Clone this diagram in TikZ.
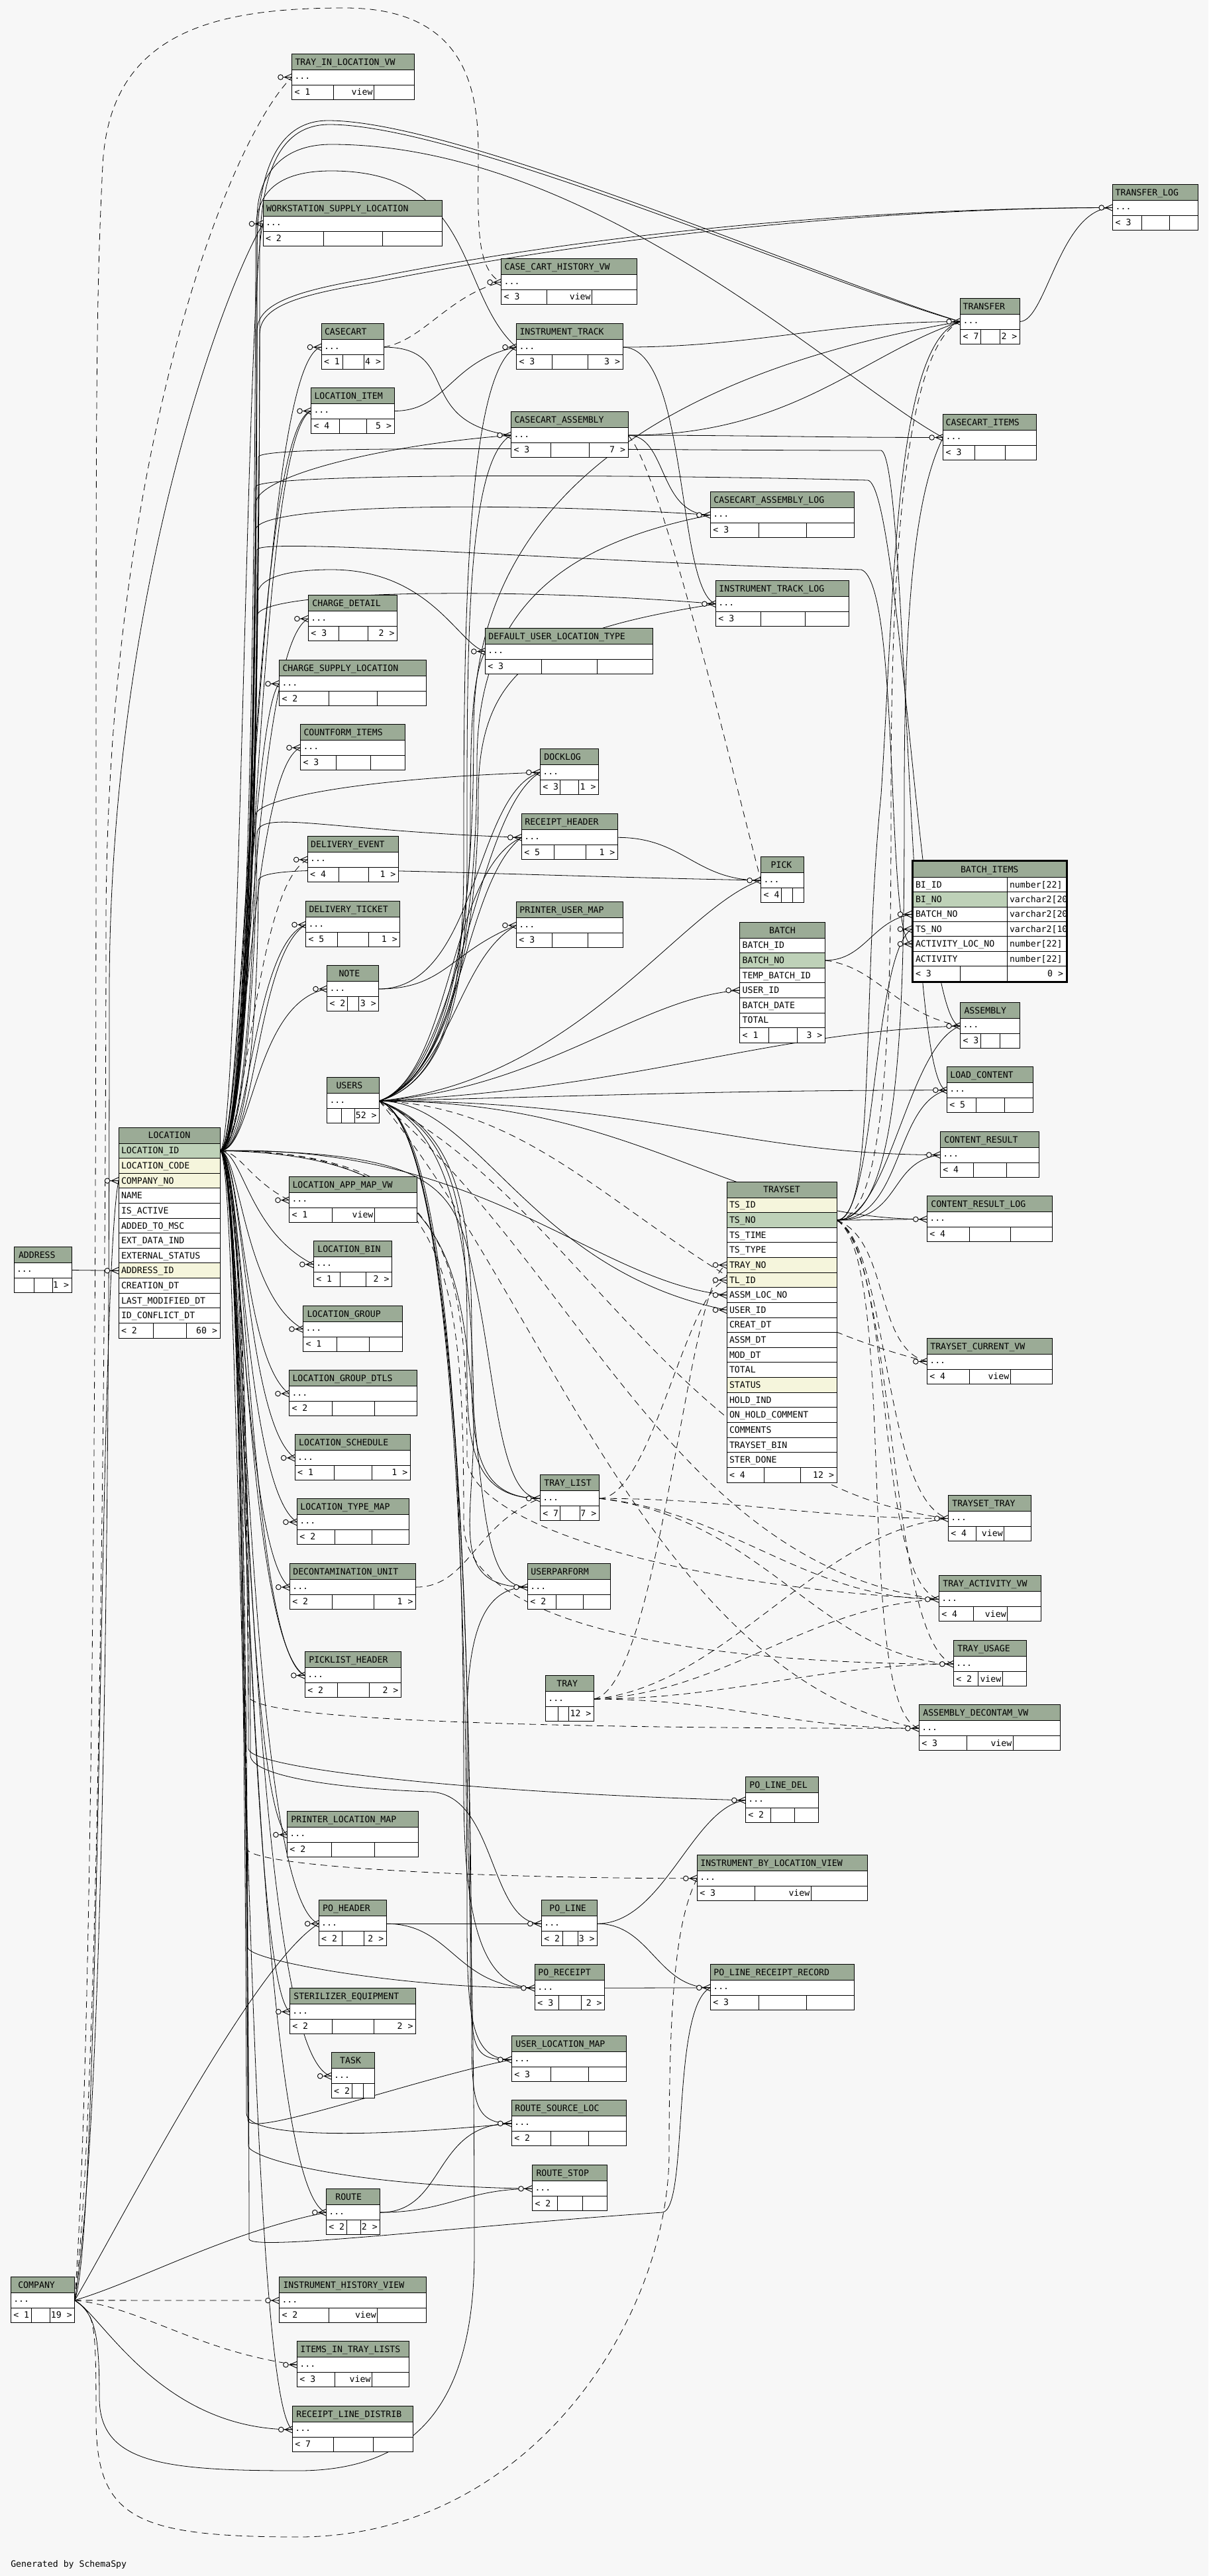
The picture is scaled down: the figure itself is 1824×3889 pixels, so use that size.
\documentclass[tikz,border=0pt]{standalone}
\usepackage{fontspec}
\newfontfamily\mono{DejaVu Sans Mono}
\definecolor{bgc}{HTML}{F7F7F7}
\definecolor{hdrc}{HTML}{9BAB96}
\definecolor{pkc}{HTML}{BED1B8}
\definecolor{ixc}{HTML}{F5F5DC}
\pgfdeclarelayer{back}
\pgfdeclarelayer{edges}
\pgfsetlayers{back,edges,main}
\tikzset{
  tx/.style={inner sep=0pt, outer sep=0pt, font=\mono\fontsize{13.2}{14}\selectfont},
  bx/.style={line width=1pt, black},
  edg/.style={line width=0.8pt, black},
  dsh/.style={dash pattern=on 10pt off 7pt},
  crow/.pic={\draw[line width=0.9pt] (-13,0) -- (0,0) (-11,0) -- (0,-5) (-11,0) -- (0,5);
             \draw[line width=0.9pt, fill=bgc] (-17,0) circle (3.8pt);}
}
\newcommand\tb[9]{%
  \def\tbid{#1}\def\tbx{#2}\def\tby{#3}\def\tbxx{#4}\def\tbdb{#8}%
  \fill[white] (#2,#3) rectangle (#4,#3+69);
  \fill[hdrc] (#2,#3) rectangle (#4,#3+24);
  \draw[bx] (#2,#3) rectangle (#4,#3+69)
     (#2,#3+24) -- (#4,#3+24) (#2,#3+47) -- (#4,#3+47)
     (#7,#3+47) -- (#7,#3+69) (#8,#3+47) -- (#8,#3+69);
  \node[tx,anchor=base west] (#1) at (#2+#5,#3+17) {#6};
  \node[tx,anchor=base west] (#1-d) at (#2+4,#3+38.5) {...};
  \coordinate (#1-w) at (#2,#3+35.5);
  \coordinate (#1-e) at (#4,#3+35.5);
  \tbfoot#9}
\newcommand\tbfoot[3]{%
  \node[tx,anchor=base west] (\tbid-fa) at (\tbx+4,\tby+62.3) {#1};
  \node[tx,anchor=base east] (\tbid-fb) at (\tbdb-2,\tby+62.3) {#2};
  \node[tx,anchor=base east] (\tbid-fc) at (\tbxx-4,\tby+62.3) {#3};}
\begin{document}
\catcode`\_=12
\begin{tikzpicture}[x=1pt,y=-1pt]
\begin{pgfonlayer}{back}
\fill[bgc] (0,0) rectangle (1824,3889);
\end{pgfonlayer}
\useasboundingbox (0,0) rectangle (1824,3889);

% ---------------- small tables
\tb{tilv}{440.5}{81}{625}{5}{TRAY_IN_LOCATION_VW}{503}{564.5}{{< 1}{view}{}}
\tb{wsl}{397}{302.4}{667}{5}{WORKSTATION_SUPPLY_LOCATION}{488}{577.5}{{< 2}{}{}}
\tb{cchv}{756.6}{390.6}{961}{5}{CASE_CART_HISTORY_VW}{825.5}{893.6}{{< 3}{view}{}}
\tb{cc}{485}{488.6}{579}{5}{CASECART}{517}{549}{{< 1}{}{4 >}}
\tb{it}{779.5}{488.6}{940}{5}{INSTRUMENT_TRACK}{833.5}{887.5}{{< 3}{}{3 >}}
\tb{tlog}{1679.7}{278}{1808}{4}{TRANSFER_LOG}{1723.6}{1765}{{< 3}{}{}}
\tb{tr}{1449.6}{450}{1539.4}{4}{TRANSFER}{1480.7}{1509.3}{{< 7}{}{2 >}}
\tb{li}{469.5}{585}{595}{5}{LOCATION_ITEM}{512}{553}{{< 4}{}{5 >}}
\tb{ca}{771.5}{621.6}{948}{5}{CASECART_ASSEMBLY}{831.6}{889.8}{{< 3}{}{7 >}}
\tb{cci}{1423.6}{625}{1564.4}{4}{CASECART_ITEMS}{1471.5}{1517.4}{{< 3}{}{}}
\tb{cal}{1072.4}{742}{1289.6}{5}{CASECART_ASSEMBLY_LOG}{1145.2}{1217.6}{{< 3}{}{}}
\tb{itl}{1080.4}{876.2}{1281.6}{5}{INSTRUMENT_TRACK_LOG}{1148.6}{1215.5}{{< 3}{}{}}
\tb{cd}{465.4}{898.6}{599.5}{6}{CHARGE_DETAIL}{511.3}{555.6}{{< 3}{}{2 >}}
\tb{dult}{732.3}{948}{985.4}{5}{DEFAULT_USER_LOCATION_TYPE}{817.3}{901.6}{{< 3}{}{}}
\tb{csl}{421.5}{996.8}{643.3}{5}{CHARGE_SUPPLY_LOCATION}{496.6}{569.8}{{< 2}{}{}}
\tb{cfi}{453.5}{1093.3}{611.3}{5}{COUNTFORM_ITEMS}{507.3}{559.5}{{< 3}{}{}}
\tb{dl}{815.3}{1130.6}{903.5}{6}{DOCKLOG}{845.8}{873.5}{{< 3}{}{1 >}}
\tb{rh}{787.3}{1228.8}{932.4}{5}{RECEIPT_HEADER}{836.3}{884.5}{{< 5}{}{1 >}}
\tb{de}{464.2}{1262.3}{601.4}{5}{DELIVERY_EVENT}{511.3}{556.4}{{< 4}{}{1 >}}
\tb{pk}{1148.6}{1293.6}{1213.4}{15}{PICK}{1179.3}{1196.5}{{< 4}{}{}}
\tb{dt}{461.5}{1360.5}{603.8}{5}{DELIVERY_TICKET}{509.3}{556.4}{{< 5}{}{1 >}}
\tb{pum}{779.4}{1361.5}{940.3}{5}{PRINTER_USER_MAP}{833.5}{887.3}{{< 3}{}{}}
\tb{nt}{493.5}{1457.5}{571.8}{18}{NOTE}{524.7}{541.7}{{< 2}{}{3 >}}
\tb{asm}{1449.5}{1513.4}{1539.6}{6}{ASSEMBLY}{1480.2}{1509.7}{{< 3}{}{}}
\tb{lc}{1429.3}{1610.3}{1559.7}{5}{LOAD_CONTENT}{1473.7}{1516.3}{{< 5}{}{}}
\tb{us}{493.5}{1626.6}{572.6}{14}{USERS}{515.6}{535.8}{{}{}{52 >}}
\tb{cr}{1419.3}{1708}{1568.7}{6}{CONTENT_RESULT}{1469.3}{1519.3}{{< 4}{}{}}
\tb{lamv}{436.5}{1776.4}{629.5}{5}{LOCATION_APP_MAP_VW}{501.4}{565.4}{{< 1}{view}{}}
\tb{crl}{1399.3}{1805.2}{1588.7}{6}{CONTENT_RESULT_LOG}{1463.3}{1525.3}{{< 4}{}{}}
\tb{adr}{21}{1882}{108}{7}{ADDRESS}{51.7}{79.7}{{}{}{1 >}}
\tb{lb}{473.3}{1873.4}{591.5}{6}{LOCATION_BIN}{513.6}{552.8}{{< 1}{}{2 >}}
\tb{lg}{457.5}{1971}{607.8}{6}{LOCATION_GROUP}{508.5}{557.5}{{< 1}{}{}}
\tb{tcv}{1399.3}{2020}{1588.7}{5}{TRAYSET_CURRENT_VW}{1463.3}{1525.3}{{< 4}{view}{}}
\tb{lgd}{436.5}{2068.5}{629.5}{5}{LOCATION_GROUP_DTLS}{501.4}{565.4}{{< 2}{}{}}
\tb{ls}{445.2}{2165.5}{619.2}{6}{LOCATION_SCHEDULE}{504.6}{561.5}{{< 1}{}{1 >}}
\tb{tl}{815.3}{2226.7}{904.3}{6}{TRAY_LIST}{845.8}{875.4}{{< 7}{}{7 >}}
\tb{tst}{1431.3}{2257}{1556.3}{6}{TRAYSET_TRAY}{1473.7}{1515.7}{{< 4}{view}{}}
\tb{ltm}{448.4}{2262.4}{617.2}{5}{LOCATION_TYPE_MAP}{505.3}{561.5}{{< 2}{}{}}
\tb{du}{437.3}{2360.6}{627.5}{5}{DECONTAMINATION_UNIT}{501.8}{564.7}{{< 2}{}{1 >}}
\tb{upf}{796.4}{2360.6}{921.3}{5}{USERPARFORM}{839.5}{880.6}{{< 2}{}{}}
\tb{tav}{1417.3}{2378.9}{1571.7}{6}{TRAY_ACTIVITY_VW}{1469.3}{1520.7}{{< 4}{view}{}}
\tb{tu}{1439.3}{2476.7}{1549.7}{6}{TRAY_USAGE}{1476.3}{1513.3}{{< 2}{view}{}}
\tb{ph}{460.3}{2493.9}{605.4}{6}{PICKLIST_HEADER}{509.3}{557.5}{{< 2}{}{2 >}}
\tb{tray}{823.3}{2529.6}{896.4}{17}{TRAY}{842}{858}{{}{}{12 >}}
\tb{adv}{1387.3}{2573.8}{1600.3}{6}{ASSEMBLY_DECONTAM_VW}{1459.3}{1529.3}{{< 3}{view}{}}
\tb{pld}{1125.3}{2682.3}{1235.3}{6}{PO_LINE_DEL}{1163.3}{1199.3}{{< 2}{}{}}
\tb{plm}{433.4}{2734.4}{631.5}{6}{PRINTER_LOCATION_MAP}{500.2}{565.4}{{< 2}{}{}}
\tb{iblv}{1052.3}{2800.3}{1309.3}{5}{INSTRUMENT_BY_LOCATION_VIEW}{1139.3}{1224.3}{{< 3}{view}{}}
\tb{poh}{481.2}{2868.7}{583.2}{6}{PO_HEADER}{516.4}{549.6}{{< 2}{}{2 >}}
\tb{pol}{817.3}{2868.7}{901.6}{12}{PO_LINE}{849}{872.3}{{< 2}{}{3 >}}
\tb{por}{807.4}{2965.8}{912.6}{5}{PO_RECEIPT}{843.4}{877}{{< 3}{}{2 >}}
\tb{plrr}{1072.3}{2965.3}{1289.3}{5}{PO_LINE_RECEIPT_RECORD}{1145.3}{1217.3}{{< 3}{}{}}
\tb{se}{437.3}{3001.6}{627.5}{6}{STERILIZER_EQUIPMENT}{501.8}{564.7}{{< 2}{}{2 >}}
\tb{task}{500.2}{3098.7}{565.4}{13}{TASK}{531.4}{548.4}{{< 2}{}{}}
\tb{ulm}{772.3}{3073.9}{945.4}{6}{USER_LOCATION_MAP}{831.6}{888.5}{{< 3}{}{}}
\tb{rsl}{772.3}{3170.3}{945.4}{5}{ROUTE_SOURCE_LOC}{831.6}{888.5}{{< 2}{}{}}
\tb{rst}{803.5}{3268.8}{916.6}{6}{ROUTE_STOP}{841.4}{879.8}{{< 2}{}{}}
\tb{rte}{492.3}{3304.6}{573.8}{14}{ROUTE}{523.9}{544.5}{{< 2}{}{2 >}}
\tb{comp}{16.3}{3437.3}{112.7}{11}{COMPANY}{47.7}{75.7}{{< 1}{}{19 >}}
\tb{ihv}{421.5}{3437.5}{643.3}{6}{INSTRUMENT_HISTORY_VIEW}{496.6}{569.8}{{< 2}{view}{}}
\tb{iitl}{448.4}{3534.6}{617.2}{5}{ITEMS_IN_TRAY_LISTS}{505.3}{561.5}{{< 3}{view}{}}
\tb{rld}{441.3}{3632.4}{623.2}{6}{RECEIPT_LINE_DISTRIB}{503.8}{563.5}{{< 7}{}{}}

% ---------------- LOCATION
\fill[white] (179,1702) rectangle (332,2020);
\fill[hdrc] (179,1702) rectangle (332,1726);
\foreach \n/\c [count=\i from 0] in {LOCATION_ID/pkc,LOCATION_CODE/ixc,COMPANY_NO/ixc,NAME/white,IS_ACTIVE/white,ADDED_TO_MSC/white,EXT_DATA_IND/white,EXTERNAL_STATUS/white,ADDRESS_ID/ixc,CREATION_DT/white,LAST_MODIFIED_DT/white,ID_CONFLICT_DT/white}{
  \fill[fill=\c] (179,{1726+\i*22.62}) rectangle (332,{1726+(\i+1)*22.62});
  \node[tx,anchor=base west] (loc-r\i) at (183,{1726+(\i+0.5)*22.62+4.6}) {\n};
}
\foreach \i in {0,...,12} \draw[bx] (179,{1726+\i*22.62}) -- (332,{1726+\i*22.62});
\draw[bx] (179,1702) rectangle (332,2020) (231,1997.4) -- (231,2020) (281.7,1997.4) -- (281.7,2020);
\node[tx,anchor=base] (loc) at (255.5,1718.7) {LOCATION};
\node[tx,anchor=base west] (loc-fa) at (183,2013.3) {< 2};
\node[tx,anchor=base east] (loc-fc) at (328,2013.3) {60 >};
\coordinate (loc-e) at (332,1737.3);
\coordinate (loc-co) at (179,1782.6);
\coordinate (loc-ad) at (179,1918.3);

% ---------------- TRAYSET
\fill[white] (1097,1784) rectangle (1263,2238);
\fill[hdrc] (1097,1784) rectangle (1263,1808);
\foreach \n/\c [count=\i from 0] in {TS_ID/ixc,TS_NO/pkc,TS_TIME/white,TS_TYPE/white,TRAY_NO/ixc,TL_ID/ixc,ASSM_LOC_NO/white,USER_ID/white,CREAT_DT/white,ASSM_DT/white,MOD_DT/white,TOTAL/white,STATUS/ixc,HOLD_IND/white,ON_HOLD_COMMENT/white,COMMENTS/white,TRAYSET_BIN/white,STER_DONE/white}{
  \fill[fill=\c] (1097,{1808+\i*22.63}) rectangle (1263,{1808+(\i+1)*22.63});
  \node[tx,anchor=base west] (ts-r\i) at (1101,{1808+(\i+0.5)*22.63+4.6}) {\n};
}
\foreach \i in {0,...,18} \draw[bx] (1097,{1808+\i*22.63}) -- (1263,{1808+\i*22.63});
\draw[bx] (1097,1784) rectangle (1263,2238) (1153.3,2215.3) -- (1153.3,2238) (1208.3,2215.3) -- (1208.3,2238);
\node[tx,anchor=base] (ts) at (1180,1800.7) {TRAYSET};
\node[tx,anchor=base west] (ts-fa) at (1101,2231.2) {< 4};
\node[tx,anchor=base east] (ts-fc) at (1259,2231.2) {12 >};
\coordinate (ts-e) at (1263,1842);
\coordinate (ts-tray) at (1097,1909.8);
\coordinate (ts-tl) at (1097,1932.5);
\coordinate (ts-assm) at (1097,1955.1);
\coordinate (ts-user) at (1097,1977.7);

% ---------------- BATCH
\fill[white] (1116.6,1392.9) rectangle (1245.4,1574.3);
\fill[hdrc] (1116.6,1392.9) rectangle (1245.4,1416);
\foreach \n/\c [count=\i from 0] in {BATCH_ID/white,BATCH_NO/pkc,TEMP_BATCH_ID/white,USER_ID/white,BATCH_DATE/white,TOTAL/white}{
  \fill[fill=\c] (1116.6,{1416+\i*22.61}) rectangle (1245.4,{1416+(\i+1)*22.61});
  \node[tx,anchor=base west] (bt-r\i) at (1120.6,{1416+(\i+0.5)*22.61+4.6}) {\n};
}
\foreach \i in {0,...,6} \draw[bx] (1116.6,{1416+\i*22.61}) -- (1245.4,{1416+\i*22.61});
\draw[bx] (1116.6,1392.9) rectangle (1245.4,1574.3) (1160.4,1551.7) -- (1160.4,1574.3) (1203.7,1551.7) -- (1203.7,1574.3);
\node[tx,anchor=base] (bt) at (1181,1409.1) {BATCH};
\node[tx,anchor=base west] (bt-fa) at (1120.6,1567.6) {< 1};
\node[tx,anchor=base east] (bt-fc) at (1241.4,1567.6) {3 >};
\coordinate (bt-e) at (1245.4,1449.9);
\coordinate (bt-user) at (1116.6,1495.1);

% ---------------- BATCH_ITEMS
\fill[white] (1378.5,1300.7) rectangle (1609,1481.1);
\fill[hdrc] (1378.5,1300.7) rectangle (1609,1324.3);
\fill[pkc] (1378.5,1346.7) rectangle (1520.3,1369.1);
\foreach \n [count=\i from 0] in {BI_ID,BI_NO,BATCH_NO,TS_NO,ACTIVITY_LOC_NO,ACTIVITY}{
  \node[tx,anchor=base west] (bi-r\i) at (1382,{1324.3+(\i+0.5)*22.4+4.6}) {\n};
}
\begin{scope}
\clip (1520.3,1324.3) rectangle (1608.5,1458.7);
\foreach \t [count=\i from 0] in {number[22],varchar2[20],varchar2[20],varchar2[10],number[22],number[22]}{
  \node[tx,anchor=base west] (bi-t\i) at (1524,{1324.3+(\i+0.5)*22.4+4.6}) {\t};
}
\end{scope}
\foreach \i in {0,...,6} \draw[bx] (1378.5,{1324.3+\i*22.4}) -- (1609,{1324.3+\i*22.4});
\draw[bx] (1378.5,1300.7) rectangle (1609,1481.1) (1520.3,1324.3) -- (1520.3,1481.1) (1449.3,1458.7) -- (1449.3,1481.1);
\draw[line width=2.2pt] (1376.6,1298.8) rectangle (1610.9,1483);
\node[tx,anchor=base] (bi) at (1493.7,1317.1) {BATCH_ITEMS};
\node[tx,anchor=base west] (bi-fa) at (1382,1474.5) {< 3};
\node[tx,anchor=base east] (bi-fc) at (1605,1474.5) {0 >};
\coordinate (bi-batch) at (1376,1380.3);
\coordinate (bi-ts) at (1376,1402.7);
\coordinate (bi-act) at (1376,1425.1);

\node[tx,anchor=base west] (gen) at (16.3,3875) {Generated by SchemaSpy};

% ---------------- connectors
\begin{pgfonlayer}{edges}
% LOCATION -> left column, upward
\draw[edg] (loc-e) .. controls +(30,0) and +(-25,80) .. (wsl-w);
\draw[edg] (loc-e) .. controls +(40,0) and +(-100,20) .. (cc-w);
\draw[edg] (loc-e) .. controls +(38,0) and +(-90,25) .. (li-w);
\draw[edg] (loc-e) .. controls +(50,0) and +(-85,40) .. (li-w);
\draw[edg] (loc-e) .. controls +(42,0) and +(-85,40) .. (cd-w);
\draw[edg] (loc-e) .. controls +(30,0) and +(-40,40) .. (csl-w);
\draw[edg] (loc-e) .. controls +(35,0) and +(-75,30) .. (cfi-w);
\draw[edg,dsh] (loc-e) .. controls +(40,0) and +(-80,40) .. (de-w);
\draw[edg] (loc-e) .. controls +(45,0) and +(-80,30) .. (dt-w);
\draw[edg] (loc-e) .. controls +(55,0) and +(-75,45) .. (dt-w);
\draw[edg] (loc-e) .. controls +(50,0) and +(-110,20) .. (nt-w);
% LOCATION -> left column, downward
\draw[edg,dsh] (loc-e) .. controls +(30,0) and +(-60,-30) .. (lamv-w);
\draw[edg] (loc-e) .. controls +(35,0) and +(-100,-50) .. (lb-w);
\draw[edg] (loc-e) .. controls +(30,0) and +(-90,-50) .. (lg-w);
\draw[edg] (loc-e) .. controls +(32,0) and +(-70,-50) .. (lgd-w);
\draw[edg] (loc-e) .. controls +(35,0) and +(-75,-50) .. (ls-w);
\draw[edg] (loc-e) .. controls +(33,0) and +(-80,-50) .. (ltm-w);
\draw[edg] (loc-e) .. controls +(30,0) and +(-70,-50) .. (du-w);
\draw[edg] (loc-e) .. controls +(34,0) and +(-90,-50) .. (ph-w);
\draw[edg] (loc-e) .. controls +(40,0) and +(-85,-35) .. (ph-w);
\draw[edg] (loc-e) .. controls +(32,0) and +(-65,-50) .. (plm-w);
\draw[edg] (loc-e) .. controls +(36,0) and +(-110,-40) .. (poh-w);
\draw[edg] (loc-e) .. controls +(34,0) and +(-65,-50) .. (se-w);
\draw[edg] (loc-e) .. controls +(38,0) and +(-130,-30) .. (task-w);
\draw[edg] (loc-e) .. controls +(36,0) and +(-120,-40) .. (rte-w);
\draw[edg] (loc-e) .. controls +(33,0) and +(-75,-50) .. (rld-w);
% LOCATION -> top and right
\draw[edg] (loc-e) .. controls +(55,0) and +(0,300) .. (388,380) .. controls +(0,-150) and +(-60,0) .. (495,182) .. controls +(200,0) and +(-200,-60) .. (tr-w);
\draw[edg] (loc-e) .. controls +(60,0) and +(0,300) .. (392,385) .. controls +(0,-150) and +(-60,0) .. (497,188) .. controls +(200,0) and +(-200,-55) .. (tr-w);
\draw[edg] (loc-e) .. controls +(50,0) and +(0,250) .. (388,500) .. controls +(0,-40) and +(-120,20) .. (560,420) .. controls +(400,-80) and +(-300,0) .. (tlog-w);
\draw[edg] (loc-e) .. controls +(55,0) and +(0,250) .. (392,505) .. controls +(0,-40) and +(-120,20) .. (560,427) .. controls +(400,-80) and +(-300,0) .. (tlog-w);
\draw[edg] (loc-e) .. controls +(52,0) and +(0,300) .. (388,330) .. controls +(0,-60) and +(-80,0) .. (500,218) .. controls +(400,0) and +(-150,-80) .. (cci-w);
\draw[edg] (loc-e) .. controls +(48,0) and +(0,300) .. (386,350) .. controls +(0,-60) and +(-80,0) .. (500,258) .. controls +(220,0) and +(-90,-80) .. (it-w);
\draw[edg] (loc-e) .. controls +(40,0) and +(0,200) .. (386,760) .. controls +(0,-40) and +(-200,15) .. (ca-w);
\draw[edg] (loc-e) .. controls +(45,0) and +(0,200) .. (386,800) .. controls +(0,-40) and +(-300,-20) .. (cal-w);
\draw[edg] (loc-e) .. controls +(45,0) and +(0,200) .. (388,930) .. controls +(0,-40) and +(-300,-25) .. (itl-w);
\draw[edg] (loc-e) .. controls +(45,0) and +(0,150) .. (388,900) .. controls +(0,-30) and +(-60,0) .. (500,860) .. controls +(150,0) and +(-40,-10) .. (dult-w);
\draw[edg] (loc-e) .. controls +(40,0) and +(0,150) .. (386,1230) .. controls +(0,-20) and +(-300,10) .. (dl-w);
\draw[edg] (loc-e) .. controls +(40,0) and +(0,150) .. (388,1260) .. controls +(0,-40) and +(-300,-10) .. (rh-w);
\draw[edg] (loc-e) .. controls +(50,0) and +(0,120) .. (390,1330) .. controls +(0,-30) and +(-500,-10) .. (pk-w);
\draw[edg] (loc-e) .. controls +(45,0) and +(0,200) .. (388,830) .. controls +(0,-20) and +(-400,-10) .. (1300,860) .. controls +(60,20) and +(-40,0) .. (bi-act);
\draw[edg] (loc-e) .. controls +(45,0) and +(0,200) .. (386,735) .. controls +(0,-20) and +(-400,-10) .. (1310,725) .. controls +(50,10) and +(-60,0) .. (asm-w);
\draw[edg] (loc-e) .. controls +(50,0) and +(0,200) .. (390,690) .. controls +(0,-20) and +(-400,0) .. (1330,680) .. controls +(40,10) and +(-60,0) .. (lc-w);
\draw[edg] (loc-e) .. controls +(400,-10) and +(-200,-20) .. (ts-assm);
\draw[edg] (loc-e) .. controls +(350,0) and +(-30,-150) .. (720,1950) .. controls +(30,150) and +(-60,0) .. (tl-w);
\draw[edg] (loc-e) .. controls +(340,5) and +(-20,-200) .. (712,2100) .. controls +(20,200) and +(-60,0) .. (upf-w);
\draw[edg] (loc-e) .. controls +(35,0) and +(0,-200) .. (375,2640) .. controls +(0,30) and +(-400,-10) .. (pld-w);
\draw[edg,dsh] (loc-e) .. controls +(33,0) and +(0,-200) .. (372,2790) .. controls +(0,30) and +(-300,0) .. (iblv-w);
\draw[edg] (loc-e) .. controls +(38,0) and +(0,-200) .. (378,2650) .. controls +(0,30) and +(-150,-5) .. (650,2705) .. controls +(100,5) and +(-80,0) .. (pol-w);
\draw[edg] (loc-e) .. controls +(34,0) and +(0,-200) .. (374,2940) .. controls +(0,20) and +(-200,0) .. (por-w);
\draw[edg] (loc-e) .. controls +(34,0) and +(0,-200) .. (374,3200) .. controls +(0,30) and +(-150,30) .. (ulm-w);
\draw[edg] (loc-e) .. controls +(33,0) and +(0,-200) .. (372,3190) .. controls +(0,40) and +(-200,20) .. (rsl-w);
\draw[edg] (loc-e) .. controls +(35,0) and +(0,-200) .. (375,3240) .. controls +(0,15) and +(-300,-5) .. (rst-w);
\draw[edg] (loc-e) .. controls +(36,0) and +(0,-300) .. (376,3380) .. controls +(0,20) and +(-300,20) .. (1000,3340) .. controls +(40,-5) and +(-60,30) .. (plrr-w);
\draw[edg,dsh] (loc-e) .. controls +(350,0) and +(0,-300) .. (705,2200) .. controls +(0,100) and +(-400,-20) .. (tav-w);
\draw[edg,dsh] (loc-e) .. controls +(345,0) and +(0,-400) .. (700,2300) .. controls +(0,150) and +(-400,0) .. (tu-w);
\draw[edg,dsh] (loc-e) .. controls +(35,0) and +(0,-200) .. (375,2560) .. controls +(0,40) and +(-500,0) .. (adv-w);
% USERS
\draw[edg] (us-e) .. controls +(100,-30) and +(0,200) .. (700,1300) .. controls +(0,-300) and +(-80,40) .. (it-w);
\draw[edg] (us-e) .. controls +(100,-30) and +(0,200) .. (705,1300) .. controls +(0,-300) and +(-70,40) .. (ca-w);
\draw[edg] (us-e) .. controls +(95,-30) and +(0,150) .. (710,1250) .. controls +(0,-150) and +(-20,40) .. (dult-w);
\draw[edg] (us-e) .. controls +(120,-40) and +(-100,60) .. (dl-w);
\draw[edg] (us-e) .. controls +(110,-40) and +(-110,50) .. (rh-w);
\draw[edg] (us-e) .. controls +(125,-40) and +(-90,70) .. (rh-w);
\draw[edg] (us-e) .. controls +(110,-40) and +(-90,50) .. (pum-w);
\draw[edg] (us-e) .. controls +(300,-30) and +(-120,40) .. (pk-w);
\draw[edg] (us-e) .. controls +(250,-20) and +(-150,10) .. (bt-user);
\draw[edg] (us-e) .. controls +(120,-40) and +(0,250) .. (715,1100) .. controls +(0,-400) and +(-350,60) .. (tr-w);
\draw[edg] (us-e) .. controls +(110,-40) and +(0,250) .. (720,1150) .. controls +(0,-250) and +(-200,40) .. (cal-w);
\draw[edg] (us-e) .. controls +(110,-40) and +(0,200) .. (722,1200) .. controls +(0,-200) and +(-250,40) .. (itl-w);
\draw[edg] (us-e) .. controls +(400,-20) and +(-300,10) .. (asm-w);
\draw[edg] (us-e) .. controls +(400,-10) and +(-300,0) .. (lc-w);
\draw[edg] (us-e) .. controls +(400,0) and +(-300,0) .. (cr-w);
\draw[edg] (us-e) .. controls +(400,0) and +(-300,0) .. (crl-w);
\draw[edg] (us-e) .. controls +(150,0) and +(-300,-60) .. (ts-user);
\draw[edg] (us-e) .. controls +(100,40) and +(0,-200) .. (705,2000) .. controls +(0,150) and +(-120,0) .. (tl-w);
\draw[edg] (us-e) .. controls +(110,40) and +(0,-200) .. (712,2010) .. controls +(0,150) and +(-110,0) .. (tl-w);
\draw[edg] (us-e) .. controls +(100,40) and +(0,-300) .. (715,2150) .. controls +(0,150) and +(-120,0) .. (upf-w);
\draw[edg] (us-e) .. controls +(110,40) and +(0,-400) .. (700,2700) .. controls +(0,200) and +(-80,0) .. (por-w);
\draw[edg] (us-e) .. controls +(110,40) and +(0,-500) .. (705,2900) .. controls +(0,150) and +(-60,0) .. (ulm-w);
\draw[edg] (us-e) .. controls +(115,40) and +(0,-500) .. (710,2950) .. controls +(0,150) and +(-60,0) .. (ulm-w);
\draw[edg] (us-e) .. controls +(120,40) and +(0,-500) .. (712,3050) .. controls +(0,120) and +(-60,0) .. (rsl-w);
\draw[edg,dsh] (us-e) .. controls +(300,10) and +(-400,-100) .. (tcv-w);
\draw[edg,dsh] (us-e) .. controls +(300,150) and +(-400,-50) .. (tst-w);
\draw[edg,dsh] (us-e) .. controls +(300,250) and +(-400,-50) .. (tav-w);
\draw[edg,dsh] (us-e) .. controls +(250,300) and +(-400,-80) .. (adv-w);
% TRAYSET
\draw[edg] (ts-e) .. controls +(60,0) and +(-30,300) .. (1330,1200) .. controls +(20,-300) and +(-100,30) .. (tr-w);
\draw[edg,dsh] (ts-e) .. controls +(80,0) and +(0,300) .. (1345,1200) .. controls +(0,-300) and +(-90,40) .. (tr-w);
\draw[edg] (ts-e) .. controls +(100,0) and +(0,300) .. (1365,1200) .. controls +(0,-300) and +(-40,80) .. (cci-w);
\draw[edg] (ts-e) .. controls +(80,0) and +(-80,30) .. (asm-w);
\draw[edg] (ts-e) .. controls +(100,0) and +(-80,20) .. (lc-w);
\draw[edg] (ts-e) .. controls +(100,0) and +(-80,10) .. (cr-w);
\draw[edg] (ts-e) .. controls +(60,0) and +(-60,0) .. (crl-w);
\draw[edg] (ts-e) .. controls +(60,0) and +(-60,40) .. (bi-ts);
\draw[edg,dsh] (ts-e) .. controls +(80,30) and +(-80,-20) .. (tcv-w);
\draw[edg,dsh] (ts-e) .. controls +(80,40) and +(-100,-30) .. (tst-w);
\draw[edg,dsh] (ts-e) .. controls +(90,50) and +(-100,-30) .. (tav-w);
\draw[edg,dsh] (ts-e) .. controls +(90,50) and +(-100,-30) .. (tu-w);
\draw[edg,dsh] (ts-e) .. controls +(95,60) and +(-100,-30) .. (adv-w);
% TRAY
\draw[edg,dsh] (tray-e) .. controls +(100,-20) and +(-60,20) .. (ts-tray);
\draw[edg,dsh] (tray-e) .. controls +(200,-20) and +(-200,20) .. (tst-w);
\draw[edg,dsh] (tray-e) .. controls +(200,-10) and +(-200,10) .. (tav-w);
\draw[edg,dsh] (tray-e) .. controls +(200,0) and +(-200,0) .. (tu-w);
\draw[edg,dsh] (tray-e) .. controls +(200,0) and +(-200,0) .. (adv-w);
% TRAY_LIST
\draw[edg,dsh] (tl-e) .. controls +(80,0) and +(-60,10) .. (ts-tl);
\draw[edg,dsh] (tl-e) .. controls +(200,0) and +(-200,0) .. (tst-w);
\draw[edg,dsh] (tl-e) .. controls +(200,20) and +(-200,0) .. (tav-w);
\draw[edg,dsh] (tl-e) .. controls +(250,30) and +(-200,-10) .. (tu-w);
% BATCH
\draw[edg] (bt-e) .. controls +(60,0) and +(-60,10) .. (bi-batch);
\draw[edg,dsh] (bt-e) .. controls +(80,10) and +(-100,-20) .. (asm-w);
% others
\draw[edg] (cc-e) .. controls +(120,0) and +(-150,-20) .. (ca-w);
\draw[edg,dsh] (cc-e) .. controls +(60,-10) and +(-80,20) .. (cchv-w);
\draw[edg] (li-e) .. controls +(80,0) and +(-100,20) .. (it-w);
\draw[edg] (it-e) .. controls +(200,0) and +(-200,0) .. (tr-w);
\draw[edg] (it-e) .. controls +(100,0) and +(-60,-20) .. (itl-w);
\draw[edg] (ca-e) .. controls +(200,0) and +(-200,0) .. (cci-w);
\draw[edg] (ca-e) .. controls +(60,0) and +(-80,0) .. (cal-w);
\draw[edg] (ca-e) .. controls +(250,0) and +(-150,50) .. (tr-w);
\draw[edg,dsh] (ca-e) .. controls +(50,50) and +(-40,-150) .. (pk-w);
\draw[edg] (tr-e) .. controls +(40,0) and +(-80,0) .. (tlog-w);
\draw[edg] (rh-e) .. controls +(100,0) and +(-100,0) .. (pk-w);
\draw[edg] (nt-e) .. controls +(100,0) and +(-100,40) .. (pum-w);
\draw[edg] (nt-e) .. controls +(150,0) and +(-100,30) .. (dl-w);
\draw[edg,dsh] (du-e) .. controls +(80,0) and +(-100,40) .. (tl-w);
\draw[edg] (poh-e) -- (pol-w);
\draw[edg] (poh-e) .. controls +(100,0) and +(-120,0) .. (por-w);
\draw[edg] (pol-e) .. controls +(100,0) and +(-80,10) .. (pld-w);
\draw[edg] (pol-e) .. controls +(80,0) and +(-80,0) .. (plrr-w);
\draw[edg] (por-e) -- (plrr-w);
\draw[edg] (rte-e) .. controls +(100,0) and +(-100,0) .. (rst-w);
\draw[edg] (rte-e) .. controls +(100,0) and +(-120,0) .. (rsl-w);
\draw[edg] (adr-e) -- (loc-ad);
% COMPANY
\draw[edg] (comp-e) .. controls +(40,-100) and +(-30,150) .. (loc-co);
\draw[edg,dsh] (comp-e) .. controls +(40,-300) and +(0,400) .. (160,1400) .. controls +(0,-700) and +(-100,100) .. (tilv-w);
\draw[edg,dsh] (comp-e) .. controls +(30,-400) and +(0,600) .. (145,1200) .. controls +(0,-600) and +(-10,200) .. (155,250) .. controls +(10,-200) and +(-200,0) .. (520,12) .. controls +(180,0) and +(0,-100) .. (722,230) .. controls +(0,100) and +(-40,-20) .. (cchv-w);
\draw[edg] (comp-e) .. controls +(50,-300) and +(0,500) .. (165,1500) .. controls +(0,-600) and +(-60,100) .. (wsl-w);
\draw[edg] (comp-e) .. controls +(60,-100) and +(-100,60) .. (poh-w);
\draw[edg] (comp-e) .. controls +(100,-30) and +(-150,30) .. (rte-w);
\draw[edg,dsh] (comp-e) -- (ihv-w);
\draw[edg,dsh] (comp-e) .. controls +(100,10) and +(-150,-20) .. (iitl-w);
\draw[edg] (comp-e) .. controls +(40,20) and +(-200,0) .. (rld-w);
\draw[edg,dsh] (comp-e) .. controls +(30,20) and +(0,-150) .. (145,3650) .. controls +(0,150) and +(-250,0) .. (450,3830) .. controls +(350,0) and +(0,250) .. (1010,3250) .. controls +(0,-250) and +(-30,60) .. (iblv-w);
\draw[edg] (comp-e) .. controls +(30,20) and +(0,-100) .. (150,3620) .. controls +(0,100) and +(-200,0) .. (450,3730) .. controls +(200,0) and +(0,200) .. (716,3400) .. controls +(0,-500) and +(0,300) .. (705,2600) .. controls +(0,-150) and +(-60,0) .. (upf-w);
\end{pgfonlayer}

% ---------------- crow's feet at child ends
\foreach \p in {tilv-w,wsl-w,cchv-w,cc-w,it-w,tlog-w,tr-w,li-w,ca-w,cci-w,cal-w,itl-w,cd-w,dult-w,csl-w,cfi-w,dl-w,rh-w,de-w,pk-w,dt-w,pum-w,nt-w,asm-w,lc-w,cr-w,lamv-w,crl-w,lb-w,lg-w,tcv-w,lgd-w,ls-w,tl-w,tst-w,ltm-w,du-w,upf-w,tav-w,tu-w,ph-w,adv-w,pld-w,plm-w,iblv-w,poh-w,pol-w,por-w,plrr-w,se-w,task-w,ulm-w,rsl-w,rst-w,rte-w,ihv-w,iitl-w,rld-w,loc-co,loc-ad,ts-tray,ts-tl,ts-assm,ts-user,bt-user,bi-batch,bi-ts,bi-act}
  \pic at (\p) {crow};
\end{tikzpicture}
\end{document}
